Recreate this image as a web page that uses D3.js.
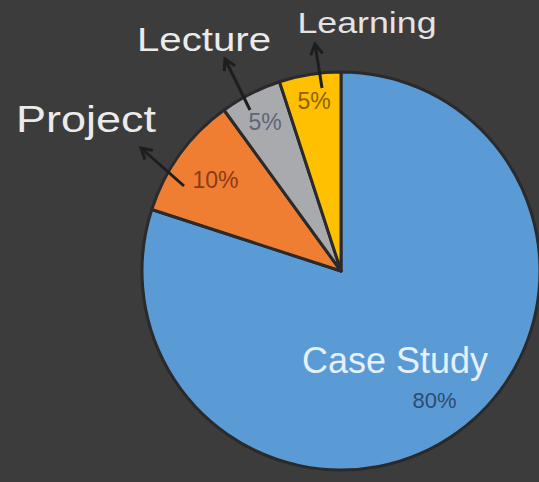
<!DOCTYPE html>
<html>
<head>
<meta charset="UTF-8">
<script src="https://d3js.org/d3.v7.min.js"></script>
<style>
  body { margin: 0; background: #3c3c3c; }
  svg { display: block; }
  text { font-family: "Liberation Sans", Arial, sans-serif; }
</style>
</head>
<body>
<svg id="chart" width="539" height="482"></svg>
<script>
// chart data
const categories = ["Case Study", "Project", "Lecture", "Learning"];
const values = [80, 10, 5, 5];
const pctLabels = ["80%", "10%", "5%", "5%"];

const colors = ["#5b9bd5", "#ef7e33", "#a9aaae", "#fec000"];
const pctColors = ["#2d4b70", "#8a3b16", "#5e6677", "#8a6200"];

const width = 539, height = 482;
const cx = 341, cy = 271, R = 199;

const svg = d3.select("#chart");
svg.append("rect").attr("width", width).attr("height", height).attr("fill", "#3c3c3c");

const pie = d3.pie().sort(null).value(d => d)(values);
const arc = d3.arc().innerRadius(0).outerRadius(R);

const g = svg.append("g").attr("transform", `translate(${cx},${cy})`);

g.selectAll("path.slice").data(pie).enter().append("path")
  .attr("class", "slice")
  .attr("d", arc)
  .attr("fill", (d, i) => colors[i])
  .attr("stroke", "#2a2a2a")
  .attr("stroke-width", 3)
  .attr("stroke-linejoin", "round");

// percentage labels, placed along each slice's mid angle
const pctRadius = [0.8, 0.78, 0.84, 0.865];
const pctSize = [22, 23, 23, 23];
g.selectAll("text.pct").data(pie).enter().append("text")
  .attr("class", "pct")
  .each(function(d, i) {
    const a = (d.startAngle + d.endAngle) / 2;
    const r = R * pctRadius[i];
    d3.select(this)
      .attr("x", r * Math.sin(a))
      .attr("y", -r * Math.cos(a))
      .attr("dy", "0.36em");
  })
  .attr("text-anchor", "middle")
  .attr("font-size", (d, i) => pctSize[i])
  .attr("fill", (d, i) => pctColors[i])
  .text((d, i) => pctLabels[i]);

// category labels (Excel style, some pulled outside with leader arrows)
const labelLayout = [
  { x: 395, y: 373, size: 36, len: 186, fill: "#e6f0fa" },
  { x: 86,  y: 132, size: 37, len: 140, fill: "#ebebeb", arrow: [[184, 186], [141, 148]] },
  { x: 204, y: 51,  size: 34, len: 134, fill: "#ebebeb", arrow: [[250, 110], [225, 59]] },
  { x: 367, y: 33,  size: 29, len: 139, fill: "#e4e4e4", arrow: [[322, 88], [315, 44]] }
];

svg.append("defs").append("marker")
  .attr("id", "head")
  .attr("viewBox", "0 0 10 10")
  .attr("refX", 8).attr("refY", 5)
  .attr("markerWidth", 5).attr("markerHeight", 5)
  .attr("orient", "auto")
  .append("path")
  .attr("d", "M1,1 L8,5 L1,9")
  .attr("fill", "none")
  .attr("stroke", "#1e1e1e")
  .attr("stroke-width", 2);

labelLayout.forEach((l, i) => {
  if (l.arrow) {
    svg.append("line")
      .attr("x1", l.arrow[0][0]).attr("y1", l.arrow[0][1])
      .attr("x2", l.arrow[1][0]).attr("y2", l.arrow[1][1])
      .attr("stroke", "#1e1e1e")
      .attr("stroke-width", 3)
      .attr("marker-end", "url(#head)");
  }
  svg.append("text")
    .attr("x", l.x).attr("y", l.y)
    .attr("text-anchor", "middle")
    .attr("font-size", l.size)
    .attr("textLength", l.len)
    .attr("lengthAdjust", "spacingAndGlyphs")
    .attr("fill", l.fill)
    .text(categories[i]);
});
</script>
</body>
</html>
